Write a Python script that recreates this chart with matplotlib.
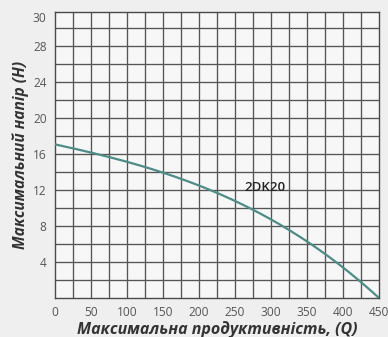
import matplotlib
matplotlib.use("Agg")
import matplotlib.pyplot as plt
import numpy as np

# pump curve 2DK20
flow = [0, 50, 100, 150, 200, 250, 300, 350, 400, 450]
head = [17.1, 16.15, 15.1, 14.0, 12.5, 10.8, 8.7, 6.3, 3.4, 0.0]

x_ticks = [0, 50, 100, 150, 200, 250, 300, 350, 400, 450]
y_ticks = [4, 8, 12, 16, 20, 24, 28, 31.2]
y_tick_labels = ["4", "8", "12", "16", "20", "24", "28", "30"]

plt.rcParams["font.family"] = ["Open Sans", "DejaVu Sans"]

fig = plt.figure(figsize=(3.88, 3.37), dpi=100)
fig.patch.set_facecolor("#efefef")
ax = fig.add_axes([0.1418, 0.1157, 0.8350, 0.8487])
ax.set_facecolor("#f7f7f7")

# grid: every 25 on Q, every 2 on H
for gx in np.arange(25, 450, 25):
    ax.axvline(gx, color="#555555", lw=0.95, zorder=1)
for gy in np.arange(2, 31, 2):
    ax.axhline(gy, color="#555555", lw=0.95, zorder=1)

# smooth line through the read points
qq = np.linspace(0, 450, 200)
coef = np.polyfit(flow, head, 3)
ax.plot(qq, np.polyval(coef, qq), color="#4d8c87", lw=1.6, zorder=3)

ax.text(291, 12.3, "2DK20", fontsize=9.5, fontweight="semibold", color="#222222",
        ha="center", va="center", zorder=4)

ax.set_xlim(0, 450)
ax.set_ylim(0, 31.8)
ax.set_xticks(x_ticks)
ax.set_xticklabels([str(v) for v in x_ticks])
ax.set_yticks(y_ticks)
ax.set_yticklabels(y_tick_labels)
ax.tick_params(length=0, labelsize=8.6, colors="#555555", pad=6)

for s in ax.spines.values():
    s.set_color("#4a4a4a")
    s.set_linewidth(1.0)

ax.set_xlabel("Максимальна продуктивність, (Q)", fontsize=11.5, fontstyle="italic",
              fontweight="bold", color="#333333", labelpad=1)
ax.set_ylabel("Максимальний напір (H)", fontsize=11.2, fontstyle="italic",
              fontweight="bold", color="#333333", labelpad=3)

fig.savefig("out.png", dpi=100, facecolor=fig.get_facecolor())
